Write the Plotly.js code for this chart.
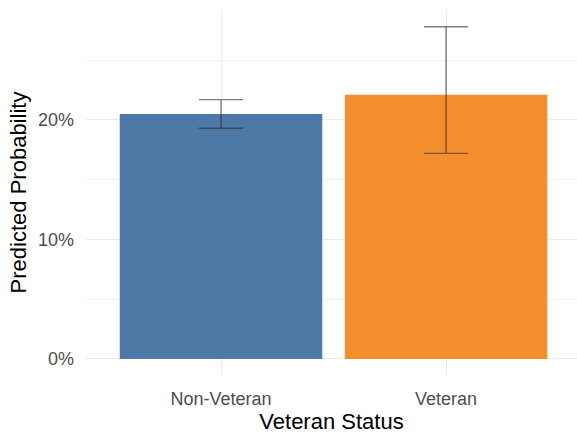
<!DOCTYPE html>
<html>
<head>
<meta charset="utf-8">
<script src="https://cdn.plot.ly/plotly-3.0.1.min.js"></script>
<style>html,body{margin:0;padding:0;background:#fff;}#chart{width:577px;height:435px;}</style>
</head>
<body>
<div id="chart"></div>
<script>
const categories = ["Non-Veteran", "Veteran"];
const predicted = [0.205, 0.221];
const ciLower = [0.193, 0.172];
const ciUpper = [0.217, 0.278];
const barColors = ["#4E79A7", "#F28E2B"];

const trace = {
  type: "bar",
  x: categories,
  y: predicted,
  width: 0.9,
  marker: {color: barColors, line: {width: 0}},
  error_y: {
    type: "data",
    symmetric: false,
    array: predicted.map((v, i) => ciUpper[i] - v),
    arrayminus: predicted.map((v, i) => v - ciLower[i]),
    color: "rgba(40,40,40,0.6)",
    thickness: 1.4,
    width: 22
  },
  hoverinfo: "none"
};

const font = "Liberation Sans, Arial, sans-serif";
const layout = {
  width: 577, height: 435,
  margin: {l: 86, r: 0, t: 10, b: 60},
  paper_bgcolor: "#fff", plot_bgcolor: "#fff",
  showlegend: false,
  font: {family: font},
  bargap: 0.1,
  xaxis: {
    type: "category",
    range: [-0.6, 1.582],
    showgrid: true, gridcolor: "#ebebeb", gridwidth: 1,
    zeroline: false, showline: false, ticks: "",
    ticklabelstandoff: 11,
    tickfont: {size: 18, color: "#4d4d4d", family: font},
    title: {text: "Veteran Status", font: {size: 22, color: "#000", family: font}, standoff: 4}
  },
  yaxis: {
    range: [-0.0134, 0.292],
    tickvals: [0, 0.1, 0.2],
    tickformat: ".0%",
    showgrid: true, gridcolor: "#ebebeb", gridwidth: 1,
    minor: {tickvals: [0.05, 0.15, 0.25], showgrid: true, gridcolor: "#f2f2f2", gridwidth: 1},
    zeroline: false, showline: false, ticks: "",
    ticklabelstandoff: 11,
    tickfont: {size: 18, color: "#4d4d4d", family: font},
    title: {text: "Predicted Probability", font: {size: 22, color: "#000", family: font}, standoff: 5}
  }
};

Plotly.newPlot("chart", [trace], layout, {displayModeBar: false, staticPlot: true});
</script>
</body>
</html>
